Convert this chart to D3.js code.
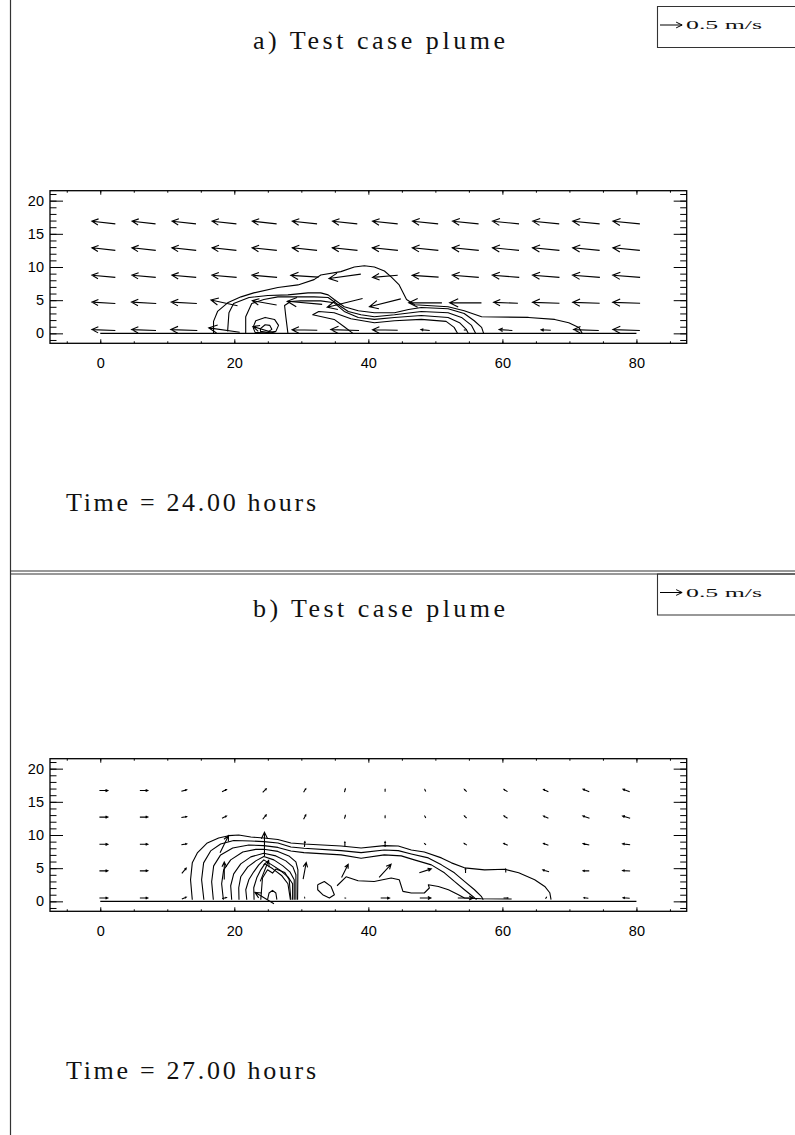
<!DOCTYPE html>
<html>
<head>
<meta charset="utf-8">
<script src="https://cdn.jsdelivr.net/npm/d3@7"></script>
<style>
  html, body { margin: 0; padding: 0; background: #fff; }
  svg { display: block; }
</style>
</head>
<body>
<script>
// ---- grid of the wind field (km) ----
const gridX = [0.5, 6.5, 12.5, 18.5, 24.5, 30.5, 36.5, 42.5, 48.5, 54.5, 60.5, 66.5, 72.5, 78.5];
const gridY = [0.5, 4.6, 8.6, 12.7, 16.7];

// ---- axis ticks ----
const xTicks = [0, 20, 40, 60, 80];
const xMinor = [-5, 0, 5, 10, 15, 20, 25, 30, 35, 40, 45, 50, 55, 60, 65, 70, 75, 80, 85];
const yTicks = [0, 5, 10, 15, 20];
const yMinor = [-1, 0, 1, 2, 3, 4, 5, 6, 7, 8, 9, 10, 11, 12, 13, 14, 15, 16, 17, 18, 19, 20, 21];

// ---- labels ----
const titles = ["a) Test case plume", "b) Test case plume"];
const timeLabels = ["Time = 24.00 hours", "Time = 27.00 hours"];
const refSpeed = 0.5;
const refLabel = "0.5 m/s";

// ---- wind components (m/s), rows from bottom (gridY[0]) to top ----
const uA = [
  [-0.53, -0.55, -0.60, -0.70, -0.52, -0.57, -0.64, -0.57, -0.20, -0.04, -0.30, -0.22, -0.57, -0.61],
  [-0.53, -0.56, -0.58, -0.60, -0.55, -0.79, -0.80, -0.71, -0.75, -0.72, -0.55, -0.61, -0.61, -0.62],
  [-0.53, -0.54, -0.55, -0.56, -0.57, -0.63, -0.72, -0.57, -0.60, -0.60, -0.61, -0.61, -0.62, -0.62],
  [-0.53, -0.54, -0.55, -0.55, -0.56, -0.56, -0.57, -0.58, -0.59, -0.60, -0.60, -0.61, -0.61, -0.61],
  [-0.53, -0.53, -0.54, -0.55, -0.55, -0.56, -0.56, -0.57, -0.58, -0.59, -0.60, -0.60, -0.61, -0.61]
];
const vA = [
  [0.02, 0.02, 0.02, 0.10, 0.16, 0.01, 0.02, 0.01, 0.02, 0.00, 0.02, 0.01, 0.02, 0.02],
  [0.03, 0.03, 0.03, 0.13, 0.10, 0.07, -0.20, -0.18, 0.00, 0.00, 0.02, 0.02, 0.02, 0.02],
  [0.05, 0.05, 0.05, 0.05, 0.05, 0.04, -0.10, -0.05, 0.04, 0.05, 0.05, 0.05, 0.05, 0.05],
  [0.06, 0.06, 0.06, 0.06, 0.06, 0.06, 0.06, 0.06, 0.06, 0.06, 0.06, 0.06, 0.06, 0.06],
  [0.06, 0.06, 0.06, 0.06, 0.06, 0.06, 0.06, 0.06, 0.06, 0.06, 0.06, 0.06, 0.06, 0.06]
];
const uB = [
  [0.19, 0.18, 0.10, 0.10, -0.43, 0.00, 0.02, 0.20, 0.25, 0.35, 0.10, 0.02, -0.10, -0.15],
  [0.19, 0.18, 0.10, 0.00, 0.19, 0.07, 0.15, 0.27, 0.27, 0.00, 0.00, -0.14, -0.14, -0.17],
  [0.19, 0.18, 0.12, 0.19, 0.00, 0.01, 0.00, 0.00, -0.03, -0.06, -0.09, -0.11, -0.14, -0.17],
  [0.19, 0.18, 0.12, 0.10, 0.08, 0.05, 0.02, 0.00, -0.02, -0.05, -0.08, -0.11, -0.15, -0.17],
  [0.19, 0.18, 0.12, 0.10, 0.08, 0.05, 0.02, 0.00, -0.02, -0.05, -0.08, -0.11, -0.14, -0.15]
];
const vB = [
  [0.00, 0.00, 0.04, 0.02, 0.26, 0.02, 0.00, 0.00, 0.00, 0.00, 0.00, 0.03, 0.01, 0.01],
  [0.00, 0.00, 0.12, 0.40, 0.48, 0.38, 0.30, 0.30, 0.09, 0.10, 0.08, 0.04, 0.00, 0.01],
  [0.00, 0.00, 0.02, 0.39, 0.55, 0.12, 0.10, 0.12, 0.03, 0.04, 0.04, 0.04, 0.03, 0.02],
  [0.00, 0.00, 0.02, 0.05, 0.10, 0.10, 0.07, 0.05, 0.04, 0.05, 0.05, 0.05, 0.05, 0.05],
  [0.00, 0.00, 0.03, 0.05, 0.08, 0.08, 0.07, 0.05, 0.04, 0.05, 0.05, 0.05, 0.06, 0.06]
];

// ---- concentration contours [x km, z km] ----
const contoursA = [
  [[16.9,0],[16.9,1.8],[17.5,3.3],[19.0,4.6],[21.0,5.5],[22.9,6.1],[26.5,6.9],[29.5,7.3],[31.9,8.1],[32.9,8.8],[35.9,9.3],[37.9,10.0],[39.4,10.2],[40.9,10.0],[42.4,9.4],[43.4,8.5],[44.6,7.3],[45.7,5.1],[46.9,4.3],[51.9,4.0],[54.3,3.4],[56.9,2.5],[63.9,2.4],[67.8,2.1],[69.9,1.6],[71.4,0.9],[71.9,0]],
  [[19.0,0.3],[19.2,3.1],[19.9,4.5],[22.2,5.4],[25.0,5.7],[28.0,5.8],[31.0,6.1],[32.9,6.1],[34.0,5.8],[34.9,5.1],[36.4,4.0],[38.5,3.4],[40.9,3.1],[43.9,3.1],[46.0,3.6],[47.9,3.9],[51.9,3.7],[54.3,3.0],[55.8,1.9],[56.9,0.9],[57.2,0]],
  [[21.7,0],[21.7,2.5],[22.6,4.5],[24.4,5.1],[26.5,5.5],[28.4,5.5],[31.9,5.5],[34.0,5.4],[35.5,4.3],[37.0,3.3],[38.9,2.8],[40.9,2.5],[43.9,2.8],[47.9,3.3],[51.9,3.1],[53.9,2.4],[55.4,1.2],[56.0,0]],
  [[28.0,0],[27.7,2.4],[27.5,4.2],[28.4,4.8],[29.9,4.9],[32.9,4.9],[34.9,4.6],[36.4,3.3],[38.5,2.4],[40.9,2.1],[43.9,2.4],[47.9,2.7],[51.9,2.4],[53.6,1.6],[54.6,0.6],[54.9,0]],
  [[37.7,0],[36.4,1.0],[34.9,2.1],[31.7,2.8],[32.6,3.3],[34.9,3.1],[37.4,2.2],[40.9,1.6],[43.9,1.9],[47.9,2.1],[51.6,1.8],[52.8,0.9],[53.3,0]],
  [[22.8,0.9],[23.2,1.9],[24.6,2.4],[26.0,2.1],[26.6,1.2],[26.2,0.3],[24.6,0.05],[23.1,0.15],[22.8,0.9]],
  [[23.9,0.7],[24.6,1.3],[25.3,1.2],[25.6,0.6],[24.9,0.15],[23.9,0.3],[23.9,0.7]]
];
const contoursB = [
  [[13.73,0.25],[13.47,3.25],[13.73,5.80],[14.48,7.30],[15.97,8.80],[17.66,9.55],[19.16,9.90],[20.66,10.0],[22.46,9.70],[24.40,9.55],[26.50,9.33],[28.44,8.80],[30.39,8.65],[35.93,8.35],[38.92,8.05],[42.37,8.40],[44.46,8.35],[46.41,7.75],[48.35,7.45],[50.90,6.55],[52.40,5.80],[54.34,5.05],[57.34,4.75],[60.33,4.83],[62.43,4.30],[64.82,3.25],[66.32,2.25],[67.07,1.30],[67.26,0.25]],
  [[15.46,0.25],[15.12,3.25],[15.42,5.80],[16.47,7.60],[17.96,8.65],[19.91,9.18],[22.46,9.10],[24.40,9.00],[26.50,8.80],[28.44,8.20],[30.39,8.00],[35.93,7.65],[38.92,7.35],[42.37,7.75],[44.46,7.65],[46.41,7.15],[48.95,6.55],[50.90,5.50],[52.84,4.30],[54.34,3.00],[55.84,1.75],[56.89,0.70],[57.14,0.25]],
  [[16.87,0.25],[16.62,2.95],[16.92,5.35],[17.96,7.00],[19.76,8.05],[22.16,8.50],[24.40,8.40],[26.50,8.13],[28.44,7.60],[30.39,7.35],[35.93,7.00],[38.92,6.50],[42.37,7.00],[44.91,6.85],[46.86,6.25],[49.40,5.50],[51.35,4.30],[52.84,3.00],[54.34,1.75],[55.64,0.70],[56.14,0.25]],
  [[18.37,0.25],[18.11,2.65],[18.41,4.75],[19.46,6.25],[21.26,7.45],[23.20,7.83],[24.40,7.86],[26.50,7.53],[28.14,6.85],[29.19,5.95],[29.49,4.75],[29.44,0.25]],
  [[19.61,0.25],[19.46,2.35],[19.91,4.15],[20.96,5.65],[22.46,6.70],[24.40,7.26],[26.20,6.85],[27.69,6.10],[28.74,5.20],[29.19,4.00],[29.19,0.25]],
  [[20.70,0.25],[20.66,2.05],[20.96,3.70],[22.01,5.20],[23.20,6.10],[24.40,6.75],[25.90,6.25],[27.25,5.35],[28.29,4.45],[28.94,3.25],[28.94,0.25]],
  [[21.86,0.25],[21.71,1.75],[22.16,3.25],[22.90,4.45],[23.65,5.50],[24.40,6.25],[25.60,5.50],[26.95,4.60],[28.00,3.70],[28.70,2.65],[28.70,0.25]],
  [[22.95,0.25],[22.90,2.05],[23.35,3.55],[23.95,4.75],[24.55,5.65],[25.75,4.90],[27.10,3.85],[28.00,2.65],[28.37,0.25]],
  [[23.95,0.25],[24.20,3.51],[24.96,4.75],[25.70,4.26],[26.20,4.86],[27.54,4.35],[28.19,3.25],[28.44,0.25]],
  [[24.96,0.25],[25.19,1.26],[25.70,1.65],[26.20,1.26],[26.35,0.25]],
  [[32.44,2.50],[33.43,3.00],[34.43,2.25],[34.93,1.00],[34.18,0.51],[33.19,1.00],[32.44,1.75],[32.44,2.50]],
  [[35.33,2.35],[36.68,3.70],[38.47,3.10],[40.87,3.00],[43.41,3.51],[44.61,3.25],[45.16,1.50],[46.41,1.26],[48.35,1.26],[49.10,2.01],[48.95,2.50],[50.45,2.25],[51.95,1.75],[53.44,1.00],[54.34,0.51],[56.89,0.40],[61.38,0.36]]
];
const groundLine = [[0, 0], [80, 0]];

// ---- page layout ----
const W = 795, H = 1135;
const panelOffsets = [0, 568];
const velScale = 6.6;          // km of arrow per m/s
const serif = "'Liberation Serif', 'Times New Roman', serif";
const sans = "'Liberation Sans', Arial, Helvetica, sans-serif";

const svg = d3.select("body").append("svg")
  .attr("width", W).attr("height", H)
  .attr("viewBox", `0 0 ${W} ${H}`);

svg.append("rect").attr("width", W).attr("height", H).attr("fill", "#fff");

const x = d3.scaleLinear().domain([-7.5, 87.5]).range([50, 686.7]);

function arrowPath(x0, y0, x1, y1) {
  const dx = x1 - x0, dy = y1 - y0, len = Math.hypot(dx, dy);
  if (len < 0.3) return `M${x0},${y0}L${x0 + 0.6},${y0}`;
  const a = Math.atan2(dy, dx), hl = 0.3 * len, ang = Math.PI / 7;
  const hx1 = x1 - hl * Math.cos(a - ang), hy1 = y1 - hl * Math.sin(a - ang);
  const hx2 = x1 - hl * Math.cos(a + ang), hy2 = y1 - hl * Math.sin(a + ang);
  return `M${x0},${y0}L${x1},${y1}M${hx1},${hy1}L${x1},${y1}L${hx2},${hy2}`;
}

// vector-style lettering fitted to a fixed run length
function wideText(sel, str, x0, y0, size, len, adjust) {
  return sel.append("text").attr("x", x0).attr("y", y0)
    .attr("font-family", serif).attr("font-size", size)
    .attr("textLength", len).attr("lengthAdjust", adjust || "spacing")
    .attr("fill", "#111")
    .text(str);
}

const panels = [
  { title: titles[0], time: timeLabels[0], u: uA, v: vA, contours: contoursA },
  { title: titles[1], time: timeLabels[1], u: uB, v: vB, contours: contoursB }
];

// panel borders
svg.append("line").attr("x1", 10.5).attr("x2", 10.5).attr("y1", 0).attr("y2", H)
  .attr("stroke", "#333").attr("stroke-width", 1.2);
svg.append("line").attr("x1", 10).attr("x2", W).attr("y1", 571).attr("y2", 571)
  .attr("stroke", "#333").attr("stroke-width", 1.2);
svg.append("line").attr("x1", 10).attr("x2", W).attr("y1", 574).attr("y2", 574)
  .attr("stroke", "#333").attr("stroke-width", 1.2);

panels.forEach((p, k) => {
  const oy = panelOffsets[k];
  const y = d3.scaleLinear().domain([-1.5, 21.5]).range([343.3 + oy, 190.7 + oy]);
  const g = svg.append("g");

  // reference-vector box
  const boxTop = k === 0 ? 6.5 : 574;
  g.append("path")
    .attr("d", `M${W + 2},${boxTop}H657.5V${boxTop + 41}H${W + 2}`)
    .attr("fill", "none").attr("stroke", "#333").attr("stroke-width", 1.1);
  const refLen = x(refSpeed * velScale) - x(0);
  g.append("path")
    .attr("d", arrowPath(660, boxTop + 18.5, 660 + refLen, boxTop + 18.5))
    .attr("fill", "none").attr("stroke", "#000").attr("stroke-width", 1);
  wideText(g, refLabel, 686, boxTop + 22.5, 13, 76, "spacingAndGlyphs");

  // title and time
  wideText(g, p.title, 253, 49 + oy, 26, 252);
  wideText(g, p.time, 66, 511 + oy, 26, 250);

  // axes: ticks point inward, labels on left and bottom only
  const fmt = d3.format("d");
  const axisStyle = sel => {
    sel.select(".domain").remove();
    sel.selectAll(".tick line").attr("stroke", "#000").attr("stroke-width", 1);
    sel.selectAll("text").attr("font-family", sans).attr("font-size", 14.5).attr("fill", "#000");
  };
  g.append("g").attr("transform", `translate(0,${y(-1.5)})`)
    .call(d3.axisBottom(x).tickValues(xTicks).tickSize(-4).tickPadding(14).tickFormat(fmt)).call(axisStyle);
  g.append("g").attr("transform", `translate(0,${y(-1.5)})`)
    .call(d3.axisBottom(x).tickValues(xMinor).tickSize(-2).tickFormat("")).call(axisStyle);
  g.append("g").attr("transform", `translate(0,${y(21.5)})`)
    .call(d3.axisTop(x).tickValues(xTicks).tickSize(-4).tickFormat("")).call(axisStyle);
  g.append("g").attr("transform", `translate(0,${y(21.5)})`)
    .call(d3.axisTop(x).tickValues(xMinor).tickSize(-2).tickFormat("")).call(axisStyle);
  g.append("g").attr("transform", `translate(${x(-7.5)},0)`)
    .call(d3.axisLeft(y).tickValues(yTicks).tickSize(-13).tickPadding(6).tickFormat(fmt)).call(axisStyle);
  g.append("g").attr("transform", `translate(${x(-7.5)},0)`)
    .call(d3.axisLeft(y).tickValues(yMinor).tickSize(-6.5).tickFormat("")).call(axisStyle);
  g.append("g").attr("transform", `translate(${x(87.5)},0)`)
    .call(d3.axisRight(y).tickValues(yTicks).tickSize(-13).tickFormat("")).call(axisStyle);
  g.append("g").attr("transform", `translate(${x(87.5)},0)`)
    .call(d3.axisRight(y).tickValues(yMinor).tickSize(-6.5).tickFormat("")).call(axisStyle);

  g.append("rect")
    .attr("x", x(-7.5)).attr("y", y(21.5))
    .attr("width", x(87.5) - x(-7.5)).attr("height", y(-1.5) - y(21.5))
    .attr("fill", "none").attr("stroke", "#000").attr("stroke-width", 1.3);

  // ground and contours
  const line = d3.line().x(d => x(d[0])).y(d => y(d[1]));
  g.append("path").attr("d", line(groundLine))
    .attr("fill", "none").attr("stroke", "#000").attr("stroke-width", 1.3);
  g.selectAll("path.contour").data(p.contours).join("path")
    .attr("class", "contour").attr("d", line)
    .attr("fill", "none").attr("stroke", "#000").attr("stroke-width", 1.1)
    .attr("stroke-linejoin", "round");

  // wind vectors, centred on the grid points
  const vecs = [];
  gridY.forEach((gy, j) => gridX.forEach((gx, i) => {
    vecs.push({ gx, gy, u: p.u[j][i], v: p.v[j][i] });
  }));
  g.selectAll("path.vec").data(vecs).join("path")
    .attr("class", "vec")
    .attr("d", d => arrowPath(
      x(d.gx - d.u * velScale / 2), y(d.gy - d.v * velScale / 2),
      x(d.gx + d.u * velScale / 2), y(d.gy + d.v * velScale / 2)))
    .attr("fill", "none").attr("stroke", "#000").attr("stroke-width", 1.1)
    .attr("stroke-linecap", "butt");
});
</script>
</body>
</html>
